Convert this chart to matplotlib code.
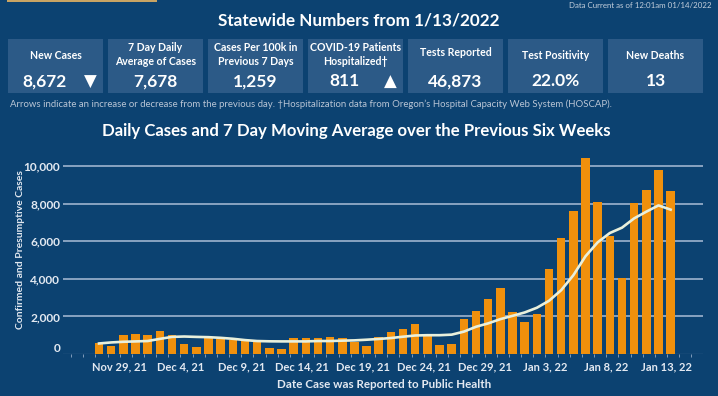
import numpy as np
import pandas as pd
import matplotlib
matplotlib.use('Agg')
import matplotlib.pyplot as plt
from matplotlib.patches import Rectangle
from matplotlib.transforms import ScaledTranslation

plt.rcParams['font.family'] = ['Lato', 'DejaVu Sans']

##################################################################
# data
dates = pd.date_range('2021-11-27', '2022-01-13', freq='D')
new_cases = [580, 420, 1015, 1070, 1015, 1210, 1015, 545, 370, 840,
             780, 740, 690, 690, 320, 280, 870, 870, 870, 920,
             830, 620, 440, 920, 1190, 1345, 1575, 940, 495, 550,
             1880, 2300, 2918, 3518, 2228, 1698, 2122, 4527, 6170, 7604,
             10415, 8064, 6278, 4032, 8048, 8718, 9780, 8672]
avg7 = [560, 615, 650, 670, 690, 805, 910, 930, 910, 895,
        860, 810, 740, 690, 675, 670, 670, 670, 690, 690,
        710, 725, 760, 800, 850, 920, 985, 1000, 1000, 1030,
        1190, 1450, 1630, 1855, 2030, 2210, 2460, 2830, 3395, 4190,
        5200, 5940, 6435, 6720, 7215, 7570, 7905, 7678]

box_labels = ['New Cases', '7 Day Daily\nAverage of Cases', 'Cases Per 100k in\nPrevious 7 Days',
              'COVID-19 Patients\nHospitalized\u2020', 'Tests Reported', 'Test Positivity', 'New Deaths']
box_values = ['8,672', '7,678', '1,259', '811', '46,873', '22.0%', '13']
box_arrows = ['\u25BC', '', '', '\u25B2', '', '', '']

xtick_labels = ['Nov 29, 21', 'Dec 4, 21', 'Dec 9, 21', 'Dec 14, 21', 'Dec 19, 21',
                'Dec 24, 21', 'Dec 29, 21', 'Jan 3, 22', 'Jan 8, 22', 'Jan 13, 22']

##################################################################
bg = '#0c4271'
boxc = '#2c5a87'
orange = '#f0900c'
W, H = 718, 396

fig = plt.figure(figsize=(W/100, H/100), dpi=100)
fig.patch.set_facecolor(bg)

def fx(px):
    return px / W
def fy(py):
    return 1 - py / H

# small gold button cut off at top-left
fig.add_artist(Rectangle((fx(7), fy(1.5)), fx(150), 2/H, facecolor='#c9a463',
                         edgecolor='none', transform=fig.transFigure))

fig.text(fx(712), fy(5.5), 'Data Current as of 12:01am 01/14/2022', ha='right', va='center',
         color='#c4cfdc', fontsize=5.7)
fig.text(fx(359), fy(20), 'Statewide Numbers from 1/13/2022', ha='center', va='center',
         color='white', fontsize=12.3, fontweight='bold')

# stat boxes
for i in range(7):
    x0 = 8.3 + i * 100
    fig.add_artist(Rectangle((fx(x0), fy(92.5)), fx(94.5), 54/H, facecolor=boxc,
                             edgecolor='none', transform=fig.transFigure))
    cx = x0 + 47.25
    ly = 54.5 if '\n' in box_labels[i] else 55.5
    if box_labels[i] == 'Tests Reported':
        ly = 52.5
    fig.text(fx(cx), fy(ly), box_labels[i], ha='center', va='center', color='white',
             fontsize=7.6, fontweight='bold', linespacing=1.25)
    vx = cx
    if box_arrows[i]:
        vx = cx - 11
        fig.text(fx(x0 + 82), fy(81.5), box_arrows[i], ha='center', va='center',
                 color='white', fontsize=12, family='DejaVu Sans')
    fig.text(fx(vx), fy(81.5), box_values[i], ha='center', va='center', color='white',
             fontsize=12.5, fontweight='bold')

fig.text(fx(10), fy(104), 'Arrows indicate an increase or decrease from the previous day. '
         '\u2020Hospitalization data from Oregon\u2019s Hospital Capacity Web System (HOSCAP).',
         ha='left', va='center', color='#b9c5d5', fontsize=6.9)

fig.text(fx(356), fy(131), 'Daily Cases and 7 Day Moving Average over the Previous Six Weeks',
         ha='center', va='center', color='white', fontsize=12.1, fontweight='bold')

##################################################################
# chart
ymax = 11000
ax_top = 354 - ymax * 188 / 10000.
ax = fig.add_axes([fx(63), (H - 354) / H, fx(640), (354 - ax_top) / H])
ax.set_facecolor(bg)
x = np.arange(len(dates))
ax.bar(x, new_cases, width=0.7, color=orange, zorder=2)
ax.plot(x, avg7, color='#e9f0dc', lw=1.9, solid_joinstyle='round', zorder=3)

ax.set_xlim(-2.96, 49.66)
ax.set_ylim(0, ymax)
ax.set_yticks([0, 2000, 4000, 6000, 8000, 10000])
ax.set_yticklabels(['0', '2,000', '4,000', '6,000', '8,000', '10,000'])
for v in [2000, 4000, 6000, 8000, 10000]:
    ax.axhline(v, color='#93abc7', lw=1.3, zorder=1)
ax.axhline(0, color='#93abc7', lw=0.8, zorder=1)
ax.tick_params(axis='y', length=0, pad=2, labelsize=8.6, labelcolor='#e3e9f1')
for t in ax.get_yticklabels():
    t.set_fontweight('bold')
ax.get_yticklabels()[0].set_transform(ax.get_yticklabels()[0].get_transform() +
                                      ScaledTranslation(0, 6/100, fig.dpi_scale_trans))

lab_pos = [dates.get_loc(pd.Timestamp(d)) for d in
           ['2021-11-29', '2021-12-04', '2021-12-09', '2021-12-14', '2021-12-19',
            '2021-12-24', '2021-12-29', '2022-01-03', '2022-01-08', '2022-01-13']]
ax.set_xticks(np.array(lab_pos) - 0.3)
ax.set_xticklabels(xtick_labels)
ax.set_xticks(np.arange(-2, 50) - 0.3, minor=True)
ax.tick_params(axis='x', which='both', length=2, color='#93abc7', width=0.6,
               pad=3, labelsize=8.0, labelcolor='#e3e9f1')
for t in ax.get_xticklabels():
    t.set_fontweight('bold')
for s in ax.spines.values():
    s.set_visible(False)

fig.text(fx(20.5), fy(250), 'Confirmed and Presumptive Cases', rotation=90, ha='center',
         va='center', color='#e3e9f1', fontsize=7.5, fontweight='bold')
fig.text(fx(384), fy(384.5), 'Date Case was Reported to Public Health', ha='center',
         va='center', color='#e3e9f1', fontsize=8.4, fontweight='bold')

plt.savefig('out.png', dpi=100, facecolor=bg)
